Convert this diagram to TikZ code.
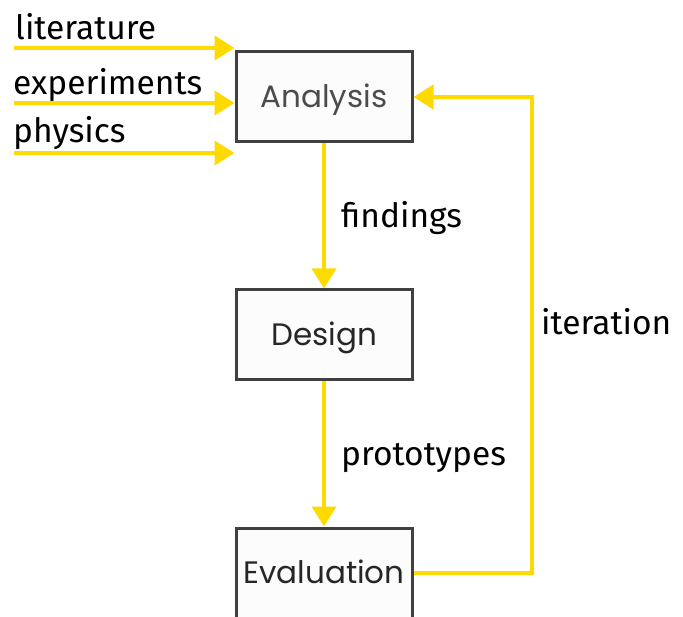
\documentclass[tikz,border=0pt]{standalone}
\usepackage{fontspec}
\setmainfont{Fira Sans}
\newfontfamily\stagefont{Poppins}
\usetikzlibrary{arrows.meta}
\definecolor{flowyellow}{RGB}{255,218,0}
\definecolor{boxgray}{RGB}{64,64,64}
\tikzstyle{arrow} = [line width=4pt, draw=flowyellow, -{Triangle[length=20pt,width=24pt]}]
\tikzstyle{stage} = [draw=boxgray, line width=3pt, fill=black!1, text=black!85, minimum width=176pt, minimum height=90pt, inner sep=0pt, text height=21pt, text depth=0pt, font=\stagefont\fontsize{31}{36}\selectfont]
\tikzstyle{flowlabel} = [inner sep=0pt, text=black, font=\fontsize{33.5}{38}\selectfont]

\begin{document}
\begin{tikzpicture}[x=1pt, y=-1pt]
    \useasboundingbox (0,0) rectangle (683,617);

    % Stages
    \node at (324,97) [stage, text=black!70] (analysis) {Analysis};
    \node at (324,335) [stage] (design) {Design};
    \node at (324,573) [stage] (evaluation) {Evaluation};

    % Inputs
    \node at (15,40) [anchor=base west, flowlabel] (literature) {literature};
    \node at (13,95) [anchor=base west, flowlabel] (experiments) {experiments};
    \node at (13,143) [anchor=base west, flowlabel] (physics) {physics};
    \coordinate (litin) at (14,48);
    \coordinate (expin) at (14,103);
    \coordinate (phyin) at (14,153);
    \draw [arrow] (litin) -- (litin -| analysis.west);
    \draw [arrow] (expin) -- (expin -| analysis.west);
    \draw [arrow] (phyin) -- (phyin -| analysis.west);

    % Analysis to Design
    \draw [arrow] (analysis) -- (design);
    \node at (341,228) [anchor=base west, flowlabel] (findings) {findings};

    % Design to Evaluation
    \draw [arrow] (design) -- (evaluation);
    \node at (341,465) [anchor=base west, flowlabel] (prototypes) {prototypes};

    % Evaluation back to Analysis
    \draw [arrow] (evaluation.east) -- ++(118,0) |- (analysis.east);
    \node at (541,335) [anchor=base west, flowlabel] (iteration) {iteration};

\end{tikzpicture}
\end{document}
